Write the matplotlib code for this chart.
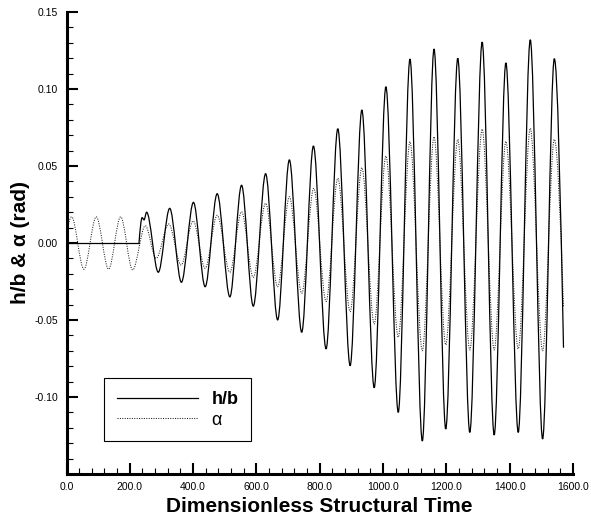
import matplotlib
matplotlib.use('Agg')
import matplotlib.pyplot as plt
from matplotlib.path import Path
from matplotlib.patches import PathPatch
from matplotlib.lines import Line2D
from matplotlib.ticker import MultipleLocator, FormatStrFormatter

plt.rcParams['font.family'] = ['Liberation Sans', 'DejaVu Sans']
plt.rcParams['axes.unicode_minus'] = False

# h/b: at rest until the release, then the turning points of the response
hb_rest_t = [0.0, 229.0]
hb_rest_v = [0.0, 0.0]
hb_t = [229, 239, 245, 253, 290, 326, 363, 401, 438, 476, 516, 553, 590,
        629, 667, 704, 743, 780, 820, 857, 896, 933, 972, 1009, 1048, 1085,
        1124, 1161, 1198, 1236, 1274, 1313, 1351, 1388, 1427, 1465, 1504,
        1541, 1570]
hb_v = [0.0, 0.0165, 0.0150, 0.0200, -0.0190, 0.0225, -0.0255, 0.0264,
        -0.0284, 0.0320, -0.0350, 0.0375, -0.0410, 0.0450, -0.0500, 0.0540,
        -0.0580, 0.0630, -0.0688, 0.0742, -0.0797, 0.0864, -0.0940, 0.1015,
        -0.1100, 0.1195, -0.1286, 0.1260, -0.1208, 0.1200, -0.1230, 0.1305,
        -0.1247, 0.1170, -0.1230, 0.1320, -0.1273, 0.1197, -0.0680]

# alpha: turning points
al_t = [0, 16, 55, 94, 133, 171, 209, 249, 283, 323, 362, 400, 438, 476,
        516, 553, 590, 629, 667, 704, 743, 781, 820, 857, 896, 933, 972,
        1009, 1048, 1085, 1124, 1161, 1198, 1236, 1274, 1313, 1351, 1388,
        1427, 1465, 1504, 1541, 1570]
al_v = [0.0060, 0.0170, -0.0170, 0.0170, -0.0170, 0.0170, -0.0175, 0.0112,
        -0.0100, 0.0123, -0.0143, 0.0143, -0.0164, 0.0180, -0.0190, 0.0203,
        -0.0223, 0.0258, -0.0284, 0.0300, -0.0327, 0.0355, -0.0380, 0.0420,
        -0.0446, 0.0489, -0.0526, 0.0565, -0.0612, 0.0658, -0.0700, 0.0690,
        -0.0662, 0.0673, -0.0695, 0.0740, -0.0695, 0.0660, -0.0688, 0.0745,
        -0.0700, 0.0673, -0.0410]


def wave_path(t, v, steep_start=False, steep_end=False):
    # smooth curve through the turning points (flat tangent at each one)
    verts = [(t[0], v[0])]
    codes = [Path.MOVETO]
    n = len(t) - 1
    for i in range(n):
        dt = t[i + 1] - t[i]
        dv = v[i + 1] - v[i]
        y1, y2 = v[i], v[i + 1]
        if i == 0 and steep_start:
            y1 = v[i] + 0.52 * dv
        if i == n - 1 and steep_end:
            y2 = v[i + 1] - 0.52 * dv
        verts += [(t[i] + dt / 3, y1), (t[i + 1] - dt / 3, y2), (t[i + 1], v[i + 1])]
        codes += [Path.CURVE4] * 3
    return Path(verts, codes)


fig = plt.figure(figsize=(5.91, 5.20), dpi=100)
ax = fig.add_axes([66.5 / 591, 1 - 474 / 520, 506.5 / 591, 462 / 520])

dots = (0, (1, 1.3))
ax.add_patch(PathPatch(wave_path(al_t, al_v, True, True), facecolor='none',
                       edgecolor='#222222', lw=0.75, linestyle=dots))
ax.plot(hb_rest_t, hb_rest_v, color='black', lw=0.9)
ax.add_patch(PathPatch(wave_path(hb_t, hb_v, True, True), facecolor='none',
                       edgecolor='black', lw=0.9))

ax.set_xlim(0, 1600)
ax.set_ylim(-0.15, 0.15)
ax.set_xticks([0, 200, 400, 600, 800, 1000, 1200, 1400, 1600])
ax.set_yticks([-0.10, -0.05, 0.0, 0.05, 0.10, 0.15])
ax.xaxis.set_minor_locator(MultipleLocator(40))
ax.yaxis.set_minor_locator(MultipleLocator(0.01))
ax.xaxis.set_major_formatter(FormatStrFormatter('%.1f'))
ax.yaxis.set_major_formatter(FormatStrFormatter('%.2f'))

for s in ['top', 'right']:
    ax.spines[s].set_visible(False)
for s in ['left', 'bottom']:
    ax.spines[s].set_linewidth(2.2)

ax.tick_params(which='major', direction='in', length=8, width=1.5,
               labelsize=7.5, pad=6)
ax.tick_params(which='minor', direction='in', length=4, width=0.8)

ax.set_xlabel('Dimensionless Structural Time', fontsize=15,
              fontweight='bold', labelpad=3)
ax.set_ylabel('h/b & α (rad)', fontsize=15, fontweight='bold', labelpad=3)

handles = [Line2D([], [], color='black', lw=0.9),
           Line2D([], [], color='#222222', lw=0.75, linestyle=dots)]
leg = ax.legend(handles, ['h/b', 'α'], loc='lower left',
                bbox_to_anchor=(0.074, 0.071), borderaxespad=0,
                fancybox=False, edgecolor='black', framealpha=1,
                fontsize=13, handlelength=4.5, handletextpad=0.75,
                borderpad=0.7, labelspacing=0.2)
leg.get_frame().set_linewidth(0.8)
leg.get_texts()[0].set_fontweight('bold')

fig.savefig('out.png', dpi=100)
